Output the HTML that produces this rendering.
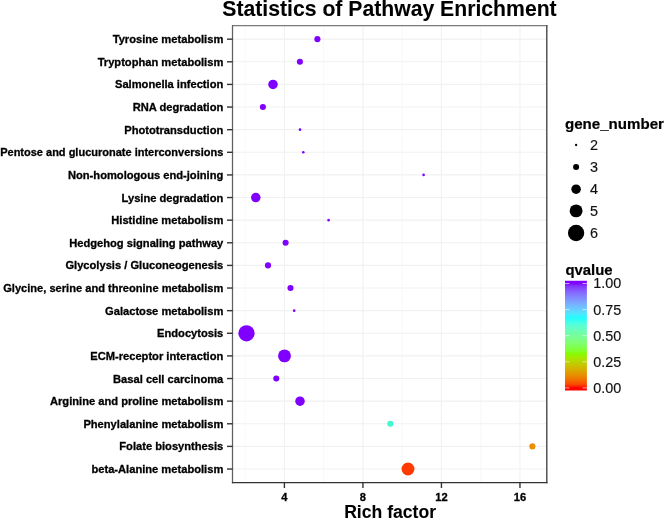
<!DOCTYPE html><html><head><meta charset="utf-8"><style>html,body{margin:0;padding:0;background:#fff;}svg{display:block;filter:blur(0.35px);}text{font-family:"Liberation Sans",sans-serif;} .b{font-weight:bold;stroke:#000;stroke-width:0.3px;} .bt{font-weight:bold;stroke:#000;stroke-width:0.08px;}</style></head><body>
<svg width="666" height="519" viewBox="0 0 666 519">
<rect x="0" y="0" width="666" height="519" fill="#fff"/>
<line x1="245.14" y1="25.6" x2="245.14" y2="482.6" stroke="#f5f5f5" stroke-width="0.7"/>
<line x1="323.66" y1="25.6" x2="323.66" y2="482.6" stroke="#f5f5f5" stroke-width="0.7"/>
<line x1="402.18" y1="25.6" x2="402.18" y2="482.6" stroke="#f5f5f5" stroke-width="0.7"/>
<line x1="480.70" y1="25.6" x2="480.70" y2="482.6" stroke="#f5f5f5" stroke-width="0.7"/>
<line x1="284.40" y1="25.6" x2="284.40" y2="482.6" stroke="#f1f1f1" stroke-width="1.1"/>
<line x1="362.92" y1="25.6" x2="362.92" y2="482.6" stroke="#f1f1f1" stroke-width="1.1"/>
<line x1="441.44" y1="25.6" x2="441.44" y2="482.6" stroke="#f1f1f1" stroke-width="1.1"/>
<line x1="519.96" y1="25.6" x2="519.96" y2="482.6" stroke="#f1f1f1" stroke-width="1.1"/>
<line x1="232.65" y1="39.17" x2="546.9" y2="39.17" stroke="#f1f1f1" stroke-width="1.1"/>
<line x1="232.65" y1="61.80" x2="546.9" y2="61.80" stroke="#f1f1f1" stroke-width="1.1"/>
<line x1="232.65" y1="84.42" x2="546.9" y2="84.42" stroke="#f1f1f1" stroke-width="1.1"/>
<line x1="232.65" y1="107.05" x2="546.9" y2="107.05" stroke="#f1f1f1" stroke-width="1.1"/>
<line x1="232.65" y1="129.67" x2="546.9" y2="129.67" stroke="#f1f1f1" stroke-width="1.1"/>
<line x1="232.65" y1="152.29" x2="546.9" y2="152.29" stroke="#f1f1f1" stroke-width="1.1"/>
<line x1="232.65" y1="174.92" x2="546.9" y2="174.92" stroke="#f1f1f1" stroke-width="1.1"/>
<line x1="232.65" y1="197.54" x2="546.9" y2="197.54" stroke="#f1f1f1" stroke-width="1.1"/>
<line x1="232.65" y1="220.16" x2="546.9" y2="220.16" stroke="#f1f1f1" stroke-width="1.1"/>
<line x1="232.65" y1="242.79" x2="546.9" y2="242.79" stroke="#f1f1f1" stroke-width="1.1"/>
<line x1="232.65" y1="265.41" x2="546.9" y2="265.41" stroke="#f1f1f1" stroke-width="1.1"/>
<line x1="232.65" y1="288.04" x2="546.9" y2="288.04" stroke="#f1f1f1" stroke-width="1.1"/>
<line x1="232.65" y1="310.66" x2="546.9" y2="310.66" stroke="#f1f1f1" stroke-width="1.1"/>
<line x1="232.65" y1="333.28" x2="546.9" y2="333.28" stroke="#f1f1f1" stroke-width="1.1"/>
<line x1="232.65" y1="355.91" x2="546.9" y2="355.91" stroke="#f1f1f1" stroke-width="1.1"/>
<line x1="232.65" y1="378.53" x2="546.9" y2="378.53" stroke="#f1f1f1" stroke-width="1.1"/>
<line x1="232.65" y1="401.15" x2="546.9" y2="401.15" stroke="#f1f1f1" stroke-width="1.1"/>
<line x1="232.65" y1="423.78" x2="546.9" y2="423.78" stroke="#f1f1f1" stroke-width="1.1"/>
<line x1="232.65" y1="446.40" x2="546.9" y2="446.40" stroke="#f1f1f1" stroke-width="1.1"/>
<line x1="232.65" y1="469.03" x2="546.9" y2="469.03" stroke="#f1f1f1" stroke-width="1.1"/>
<circle cx="317.4" cy="39.17" r="3.05" fill="#8000FF"/>
<circle cx="299.9" cy="61.80" r="3.05" fill="#8000FF"/>
<circle cx="273.0" cy="84.42" r="4.75" fill="#8000FF"/>
<circle cx="262.9" cy="107.05" r="3.05" fill="#8000FF"/>
<circle cx="300.0" cy="129.67" r="1.30" fill="#8000FF"/>
<circle cx="303.3" cy="152.29" r="1.30" fill="#8000FF"/>
<circle cx="423.6" cy="174.92" r="1.30" fill="#8000FF"/>
<circle cx="255.8" cy="197.54" r="4.75" fill="#8000FF"/>
<circle cx="328.6" cy="220.16" r="1.30" fill="#8000FF"/>
<circle cx="285.6" cy="242.79" r="3.05" fill="#8000FF"/>
<circle cx="268.0" cy="265.41" r="3.05" fill="#8000FF"/>
<circle cx="290.5" cy="288.04" r="3.05" fill="#8000FF"/>
<circle cx="294.2" cy="310.66" r="1.30" fill="#8000FF"/>
<circle cx="246.5" cy="333.28" r="8.15" fill="#8000FF"/>
<circle cx="284.5" cy="355.91" r="6.45" fill="#8000FF"/>
<circle cx="276.3" cy="378.53" r="3.05" fill="#8000FF"/>
<circle cx="300.0" cy="401.15" r="4.75" fill="#8000FF"/>
<circle cx="390.3" cy="423.78" r="3.05" fill="#40F8D0"/>
<circle cx="532.4" cy="446.40" r="3.05" fill="#EE8C00"/>
<circle cx="408.0" cy="469.03" r="6.45" fill="#FF3A00"/>
<line x1="232" y1="25.7" x2="547.5" y2="25.7" stroke="#7a7a7a" stroke-width="1.3"/>
<line x1="232.5" y1="25.2" x2="232.5" y2="483.2" stroke="#606060" stroke-width="1.25"/>
<line x1="546.8" y1="25.2" x2="546.8" y2="483.2" stroke="#404040" stroke-width="1.35"/>
<line x1="231.9" y1="482.6" x2="547.5" y2="482.6" stroke="#333" stroke-width="1.35"/>
<line x1="227" y1="39.17" x2="232.65" y2="39.17" stroke="#333" stroke-width="1.4"/>
<text x="223.3" y="43.17" text-anchor="end" class="b" font-size="11.15" fill="#000">Tyrosine metabolism</text>
<line x1="227" y1="61.80" x2="232.65" y2="61.80" stroke="#333" stroke-width="1.4"/>
<text x="223.3" y="65.80" text-anchor="end" class="b" font-size="11.15" fill="#000">Tryptophan metabolism</text>
<line x1="227" y1="84.42" x2="232.65" y2="84.42" stroke="#333" stroke-width="1.4"/>
<text x="223.3" y="88.42" text-anchor="end" class="b" font-size="11.15" fill="#000">Salmonella infection</text>
<line x1="227" y1="107.05" x2="232.65" y2="107.05" stroke="#333" stroke-width="1.4"/>
<text x="223.3" y="111.05" text-anchor="end" class="b" font-size="11.15" fill="#000">RNA degradation</text>
<line x1="227" y1="129.67" x2="232.65" y2="129.67" stroke="#333" stroke-width="1.4"/>
<text x="223.3" y="133.67" text-anchor="end" class="b" font-size="11.15" fill="#000">Phototransduction</text>
<line x1="227" y1="152.29" x2="232.65" y2="152.29" stroke="#333" stroke-width="1.4"/>
<text x="223.3" y="156.29" text-anchor="end" class="b" font-size="11.0" fill="#000">Pentose and glucuronate interconversions</text>
<line x1="227" y1="174.92" x2="232.65" y2="174.92" stroke="#333" stroke-width="1.4"/>
<text x="223.3" y="178.92" text-anchor="end" class="b" font-size="11.15" fill="#000">Non-homologous end-joining</text>
<line x1="227" y1="197.54" x2="232.65" y2="197.54" stroke="#333" stroke-width="1.4"/>
<text x="223.3" y="201.54" text-anchor="end" class="b" font-size="11.15" fill="#000">Lysine degradation</text>
<line x1="227" y1="220.16" x2="232.65" y2="220.16" stroke="#333" stroke-width="1.4"/>
<text x="223.3" y="224.16" text-anchor="end" class="b" font-size="11.15" fill="#000">Histidine metabolism</text>
<line x1="227" y1="242.79" x2="232.65" y2="242.79" stroke="#333" stroke-width="1.4"/>
<text x="223.3" y="246.79" text-anchor="end" class="b" font-size="11.15" fill="#000">Hedgehog signaling pathway</text>
<line x1="227" y1="265.41" x2="232.65" y2="265.41" stroke="#333" stroke-width="1.4"/>
<text x="223.3" y="269.41" text-anchor="end" class="b" font-size="11.15" fill="#000">Glycolysis / Gluconeogenesis</text>
<line x1="227" y1="288.04" x2="232.65" y2="288.04" stroke="#333" stroke-width="1.4"/>
<text x="223.3" y="292.04" text-anchor="end" class="b" font-size="11.1" fill="#000">Glycine, serine and threonine metabolism</text>
<line x1="227" y1="310.66" x2="232.65" y2="310.66" stroke="#333" stroke-width="1.4"/>
<text x="223.3" y="314.66" text-anchor="end" class="b" font-size="11.15" fill="#000">Galactose metabolism</text>
<line x1="227" y1="333.28" x2="232.65" y2="333.28" stroke="#333" stroke-width="1.4"/>
<text x="223.3" y="337.28" text-anchor="end" class="b" font-size="11.15" fill="#000">Endocytosis</text>
<line x1="227" y1="355.91" x2="232.65" y2="355.91" stroke="#333" stroke-width="1.4"/>
<text x="223.3" y="359.91" text-anchor="end" class="b" font-size="11.15" fill="#000">ECM-receptor interaction</text>
<line x1="227" y1="378.53" x2="232.65" y2="378.53" stroke="#333" stroke-width="1.4"/>
<text x="223.3" y="382.53" text-anchor="end" class="b" font-size="11.15" fill="#000">Basal cell carcinoma</text>
<line x1="227" y1="401.15" x2="232.65" y2="401.15" stroke="#333" stroke-width="1.4"/>
<text x="223.3" y="405.15" text-anchor="end" class="b" font-size="11.15" fill="#000">Arginine and proline metabolism</text>
<line x1="227" y1="423.78" x2="232.65" y2="423.78" stroke="#333" stroke-width="1.4"/>
<text x="223.3" y="427.78" text-anchor="end" class="b" font-size="11.15" fill="#000">Phenylalanine metabolism</text>
<line x1="227" y1="446.40" x2="232.65" y2="446.40" stroke="#333" stroke-width="1.4"/>
<text x="223.3" y="450.40" text-anchor="end" class="b" font-size="11.15" fill="#000">Folate biosynthesis</text>
<line x1="227" y1="469.03" x2="232.65" y2="469.03" stroke="#333" stroke-width="1.4"/>
<text x="223.3" y="473.03" text-anchor="end" class="b" font-size="11.15" fill="#000">beta-Alanine metabolism</text>
<line x1="284.40" y1="482.6" x2="284.40" y2="488" stroke="#333" stroke-width="1.4"/>
<text x="284.40" y="500.5" text-anchor="middle" class="b" font-size="11.15" fill="#000">4</text>
<line x1="362.92" y1="482.6" x2="362.92" y2="488" stroke="#333" stroke-width="1.4"/>
<text x="362.92" y="500.5" text-anchor="middle" class="b" font-size="11.15" fill="#000">8</text>
<line x1="441.44" y1="482.6" x2="441.44" y2="488" stroke="#333" stroke-width="1.4"/>
<text x="441.44" y="500.5" text-anchor="middle" class="b" font-size="11.15" fill="#000">12</text>
<line x1="519.96" y1="482.6" x2="519.96" y2="488" stroke="#333" stroke-width="1.4"/>
<text x="519.96" y="500.5" text-anchor="middle" class="b" font-size="11.15" fill="#000">16</text>
<text x="390.1" y="518.2" text-anchor="middle" class="bt" font-size="17.6" fill="#000">Rich factor</text>
<text x="389.5" y="16.1" text-anchor="middle" class="bt" font-size="21.2" fill="#000">Statistics of Pathway Enrichment</text>
<text x="565.0" y="128.6" class="b" style="stroke-width:0.2px" font-size="15.1" fill="#000">gene_number</text>
<circle cx="576.1" cy="145.0" r="1.15" fill="#000"/>
<text x="589.9" y="150.00" font-size="14.4" fill="#111" stroke="#111" stroke-width="0.15">2</text>
<circle cx="576.1" cy="167.0" r="3.05" fill="#000"/>
<text x="589.9" y="172.00" font-size="14.4" fill="#111" stroke="#111" stroke-width="0.15">3</text>
<circle cx="576.1" cy="189.2" r="4.75" fill="#000"/>
<text x="589.9" y="194.20" font-size="14.4" fill="#111" stroke="#111" stroke-width="0.15">4</text>
<circle cx="576.1" cy="210.9" r="6.45" fill="#000"/>
<text x="589.9" y="215.90" font-size="14.4" fill="#111" stroke="#111" stroke-width="0.15">5</text>
<circle cx="576.1" cy="233.0" r="8.15" fill="#000"/>
<text x="589.9" y="238.00" font-size="14.4" fill="#111" stroke="#111" stroke-width="0.15">6</text>
<text x="565.4" y="274.8" class="b" style="stroke-width:0.2px" font-size="14.9" fill="#000">qvalue</text>
<defs><linearGradient id="cb" gradientUnits="userSpaceOnUse" x1="0" y1="387.9" x2="0" y2="283.2"><stop offset="0.000" stop-color="#FF0000"/><stop offset="0.025" stop-color="#FB3D00"/><stop offset="0.050" stop-color="#F75800"/><stop offset="0.075" stop-color="#F26D00"/><stop offset="0.100" stop-color="#EC7F00"/><stop offset="0.125" stop-color="#E69000"/><stop offset="0.150" stop-color="#DF9F00"/><stop offset="0.175" stop-color="#D7AD00"/><stop offset="0.200" stop-color="#CFBB00"/><stop offset="0.225" stop-color="#C4C800"/><stop offset="0.250" stop-color="#B9D500"/><stop offset="0.275" stop-color="#ABE200"/><stop offset="0.300" stop-color="#9BEF00"/><stop offset="0.325" stop-color="#88FB00"/><stop offset="0.350" stop-color="#80FF29"/><stop offset="0.375" stop-color="#81FF44"/><stop offset="0.400" stop-color="#80FF59"/><stop offset="0.425" stop-color="#7FFF6C"/><stop offset="0.450" stop-color="#7DFE7D"/><stop offset="0.475" stop-color="#7AFE8D"/><stop offset="0.500" stop-color="#76FE9C"/><stop offset="0.525" stop-color="#71FEAB"/><stop offset="0.550" stop-color="#6AFEBA"/><stop offset="0.575" stop-color="#62FEC9"/><stop offset="0.600" stop-color="#56FFD8"/><stop offset="0.625" stop-color="#47FFE7"/><stop offset="0.650" stop-color="#2DFFF5"/><stop offset="0.675" stop-color="#23FAFF"/><stop offset="0.700" stop-color="#47EBFF"/><stop offset="0.725" stop-color="#5ADCFF"/><stop offset="0.750" stop-color="#67CEFF"/><stop offset="0.775" stop-color="#71BFFF"/><stop offset="0.800" stop-color="#78B0FF"/><stop offset="0.825" stop-color="#7DA0FF"/><stop offset="0.850" stop-color="#8191FF"/><stop offset="0.875" stop-color="#8381FF"/><stop offset="0.900" stop-color="#8570FF"/><stop offset="0.925" stop-color="#855EFF"/><stop offset="0.950" stop-color="#844AFF"/><stop offset="0.975" stop-color="#8332FF"/><stop offset="1.000" stop-color="#8000FF"/></linearGradient></defs>
<rect x="565" y="280.75" width="21.9" height="109.75" fill="url(#cb)"/>
<line x1="565" y1="283.50" x2="569.4" y2="283.50" stroke="#fff" stroke-opacity="0.75" stroke-width="0.8"/>
<line x1="582.5" y1="283.50" x2="586.9" y2="283.50" stroke="#fff" stroke-opacity="0.75" stroke-width="0.8"/>
<text x="593.2" y="288.40" font-size="14.4" fill="#111" stroke="#111" stroke-width="0.15">1.00</text>
<line x1="565" y1="309.60" x2="569.4" y2="309.60" stroke="#fff" stroke-opacity="0.75" stroke-width="0.8"/>
<line x1="582.5" y1="309.60" x2="586.9" y2="309.60" stroke="#fff" stroke-opacity="0.75" stroke-width="0.8"/>
<text x="593.2" y="314.50" font-size="14.4" fill="#111" stroke="#111" stroke-width="0.15">0.75</text>
<line x1="565" y1="335.70" x2="569.4" y2="335.70" stroke="#fff" stroke-opacity="0.75" stroke-width="0.8"/>
<line x1="582.5" y1="335.70" x2="586.9" y2="335.70" stroke="#fff" stroke-opacity="0.75" stroke-width="0.8"/>
<text x="593.2" y="340.60" font-size="14.4" fill="#111" stroke="#111" stroke-width="0.15">0.50</text>
<line x1="565" y1="361.80" x2="569.4" y2="361.80" stroke="#fff" stroke-opacity="0.75" stroke-width="0.8"/>
<line x1="582.5" y1="361.80" x2="586.9" y2="361.80" stroke="#fff" stroke-opacity="0.75" stroke-width="0.8"/>
<text x="593.2" y="366.70" font-size="14.4" fill="#111" stroke="#111" stroke-width="0.15">0.25</text>
<line x1="565" y1="387.90" x2="569.4" y2="387.90" stroke="#fff" stroke-opacity="0.75" stroke-width="0.8"/>
<line x1="582.5" y1="387.90" x2="586.9" y2="387.90" stroke="#fff" stroke-opacity="0.75" stroke-width="0.8"/>
<text x="593.2" y="392.80" font-size="14.4" fill="#111" stroke="#111" stroke-width="0.15">0.00</text>
</svg></body></html>
